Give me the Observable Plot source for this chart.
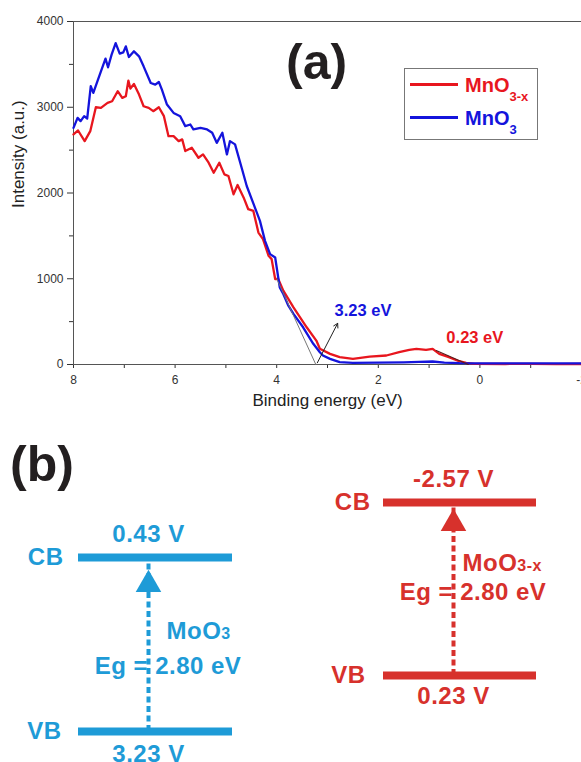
<!DOCTYPE html>
<html><head><meta charset="utf-8">
<script src="https://cdn.jsdelivr.net/npm/d3@7"></script>
<script src="https://cdn.jsdelivr.net/npm/@observablehq/plot@0.6"></script>
<style>
body{margin:0;background:#fff;}
#wrap{position:relative;width:581px;height:762px;overflow:hidden;font-family:"Liberation Sans",Arial,sans-serif;}
.abs{position:absolute;white-space:nowrap;}
</style></head><body><div id="wrap"></div>
<script>
// ---------- data : panel (a) valence-band XPS ----------
const mno3xEnergy = [8.00,7.91,7.78,7.67,7.56,7.46,7.33,7.24,7.13,7.04,6.97,6.92,6.88,6.81,6.71,6.62,6.52,6.43,6.32,6.22,6.13,6.03,5.93,5.86,5.80,5.67,5.54,5.45,5.34,5.24,5.13,5.03,4.95,4.85,4.77,4.65,4.56,4.46,4.36,4.27,4.16,4.10,4.03,3.97,3.87,3.67,3.41,3.22,3.15,2.95,2.76,2.50,2.17,1.84,1.59,1.39,1.25,1.06,0.93,0.80,0.61,0.41,0.27,0.10,-0.50,-1.00,-1.50,-2.00];
const mno3xIntensity = [2683,2729,2605,2721,3000,2993,3051,3070,3187,3109,3128,3311,3218,3272,3148,3012,2993,2954,3000,2896,2663,2663,2605,2625,2489,2527,2411,2450,2353,2236,2353,2217,2198,1985,2093,1946,1811,1791,1539,1462,1268,1229,997,997,861,666,434,279,183,124,85,66,93,105,143,171,183,171,183,124,85,38,20,8,6,8,5,6];
const mno3Energy = [8.00,7.92,7.86,7.79,7.73,7.66,7.61,7.53,7.46,7.37,7.32,7.25,7.17,7.09,7.02,6.97,6.91,6.81,6.71,6.62,6.48,6.39,6.32,6.26,6.16,6.03,5.90,5.80,5.70,5.64,5.50,5.37,5.27,5.18,5.07,4.98,4.92,4.82,4.69,4.59,4.46,4.33,4.23,4.13,4.03,3.94,3.87,3.77,3.67,3.48,3.28,3.15,3.09,2.95,2.76,2.50,2.00,1.50,1.20,0.93,0.70,0.40,0.00,-0.50,-1.00,-1.50,-2.00];
const mno3Intensity = [2760,2876,2838,2896,2869,3245,3167,3303,3419,3567,3466,3613,3748,3625,3640,3710,3586,3652,3594,3477,3283,3264,3295,3206,3032,2934,2896,2780,2799,2741,2760,2741,2702,2585,2702,2450,2605,2567,2295,2082,1880,1675,1442,1287,1248,899,822,686,590,434,241,143,105,66,27,20,22,25,30,35,22,15,12,12,12,12,12];
const seriesNames = ["MnO3-x","MnO3"];
const edgeValues = [0.23, 3.23];           // extrapolated edges (eV)
const tangentMnO3 = {energy:[4.00,3.23], intensity:[1000,0]};
const tangentMnO3x = {energy:[0.86,0.23], intensity:[163,0]};
const xTicks = [8,6,4,2,0,-2];
const xMinor = [7,5,3,1,-1];
const yTicks = [0,1000,2000,3000,4000];
const yMinor = [500,1500,2500,3500];

// ---------- data : panel (b) band positions ----------
const materials = ["MoO3","MoO3-x"];
const cbPotential = [0.43,-2.57];
const vbPotential = [3.23,0.23];

// ---------- styling ----------
const RED = "#e8161e", BLUE = "#1414dc";
const BAND_BLUE = "#1e9bd7", BAND_RED = "#d7312c";
const FONT = '"Liberation Sans", Arial, sans-serif';

const wrap = document.getElementById("wrap");
const zip = (xs, ys) => xs.map((e,i)=>({energy:e, intensity:ys[i]}));
const redData = zip(mno3xEnergy, mno3xIntensity);
const blueData = zip(mno3Energy, mno3Intensity);

const chartA = Plot.plot({
  width:581, height:420, marginLeft:73, marginRight:0, marginTop:21, marginBottom:56,
  style:{fontFamily:FONT, fontSize:"12px", color:"#333", background:"transparent", overflow:"visible"},
  x:{domain:[8,-2]}, y:{domain:[0,4000]},
  marks:[
    Plot.axisX({ticks:xTicks, tickSize:4, tickPadding:7, label:null, tickFormat:d=>String(d)}),
    Plot.axisX({ticks:xMinor, tickSize:4, label:null, tickFormat:()=>""}),
    Plot.axisY({ticks:yTicks, tickSize:6, tickPadding:4, label:null, tickFormat:d=>String(d)}),
    Plot.axisY({ticks:yMinor, tickSize:4, label:null, tickFormat:()=>""}),
    Plot.frame({stroke:"#555", strokeWidth:1}),
    Plot.line(redData, {x:"energy", y:"intensity", stroke:RED, strokeWidth:2.3}),
    Plot.line(blueData, {x:"energy", y:"intensity", stroke:BLUE, strokeWidth:2.3}),
    Plot.line(zip(tangentMnO3.energy, tangentMnO3.intensity), {x:"energy", y:"intensity", stroke:"#777", strokeWidth:1}),
    Plot.line(zip(tangentMnO3x.energy, tangentMnO3x.intensity), {x:"energy", y:"intensity", stroke:"#5a1c1c", strokeWidth:1.2}),
    Plot.arrow([edgeValues[1]], {x1:d=>d-0.03, y1:20, x2:2.80, y2:480, stroke:"#222", strokeWidth:1, headLength:7}),
    Plot.text([edgeValues[1]], {x:2.86, y:628, text:d=>`${d.toFixed(2)} eV`, textAnchor:"start", fill:BLUE, fontWeight:"bold", fontSize:16.5}),
    Plot.text([edgeValues[0]], {x:0.66, y:314, text:d=>`${d.toFixed(2)} eV`, textAnchor:"start", fill:RED, fontWeight:"bold", fontSize:16.5}),
    Plot.text(["Binding energy (eV)"], {frameAnchor:"bottom", dy:41, fontSize:17, fill:"#222"}),
    Plot.text(["Intensity (a.u.)"], {frameAnchor:"left", rotate:-90, dx:-55, dy:15, fontSize:17, fill:"#222"})
  ]
});
chartA.style.position="absolute"; chartA.style.left="0px"; chartA.style.top="0px";
wrap.appendChild(chartA);

function bandChart(i, o) {
  const d = [{cb:cbPotential[i], vb:vbPotential[i], name:materials[i]}];
  const c = o.color, ax = o.ax;
  const txt = {fill:c, fontWeight:"bold", fontSize:24};
  const ch = Plot.plot({
    width:o.width, height:342, marginLeft:o.ml, marginRight:o.mr, marginTop:o.mt, marginBottom:o.mb,
    style:{fontFamily:FONT, background:"transparent", overflow:"visible"},
    y:{domain:[d[0].cb, d[0].vb], reverse:true, axis:null},
    marks:[
      Plot.ruleX(d, {x:null, y1:"vb", y2:"cb", stroke:c, strokeWidth:4, strokeDasharray:"6,3.5", dx:ax}),
      Plot.ruleY(d, {y:"cb", stroke:c, strokeWidth:8}),
      Plot.ruleY(d, {y:"vb", stroke:c, strokeWidth:8}),
      Plot.dot(d, {y:"cb", symbol:"triangle", r:9.5, fill:c, stroke:"none", dx:ax, dy:o.tri}),
      Plot.text(d, {y:"cb", text:r=>`${r.cb.toFixed(2)} V`, dx:ax, dy:-23.5, ...txt}),
      Plot.text(d, {y:"vb", text:r=>`${r.vb.toFixed(2)} V`, dx:ax, dy:o.vbDy, ...txt}),
      Plot.text(d, {y:"cb", text:()=>"CB", frameAnchor:"left", textAnchor:"end", dx:o.cbDx, ...txt}),
      Plot.text(d, {y:"vb", text:()=>"VB", frameAnchor:"left", textAnchor:"end", dx:o.vbDx, ...txt}),
      Plot.text(d, {y:r=>(r.cb+r.vb)/2, text:"name", textAnchor:"start", dx:o.nameDx, dy:o.nameDy, ...txt}),
      Plot.text(d, {y:r=>(r.cb+r.vb)/2, text:r=>`Eg = ${(r.vb-r.cb).toFixed(2)} eV`, dx:o.egDx, dy:o.egDy, ...txt})
    ]
  });
  // small "3" / "3-x" in the formula, slight tracking like the original lettering
  d3.select(ch).selectAll("text").attr("letter-spacing", "0.5px").each(function(){
    const t = this.textContent, m = /^MoO(3.*)$/.exec(t);
    if (m) {
      const s = d3.select(this); s.text(null);
      s.append("tspan").text("MoO");
      s.append("tspan").attr("font-size", 16).text(m[1]);
    }
  });
  ch.style.position="absolute"; ch.style.left=o.left+"px"; ch.style.top="420px";
  wrap.appendChild(ch);
}
bandChart(0, {color:BAND_BLUE, left:0, width:290, ml:78, mr:58, mt:137, mb:31, ax:-7, tri:27, vbDy:22.5, cbDx:-15, vbDx:-17, nameDx:11, nameDy:-13, egDx:12.5, egDy:22});
bandChart(1, {color:BAND_RED, left:290, width:291, ml:93, mr:45, mt:82, mb:87, ax:-6.5, tri:21, vbDy:21, cbDx:-13, vbDx:-18, nameDx:2.5, nameDy:-26, egDx:13, egDy:3.5});

// ---------- overlay texts: panel letters and legend ----------
function addDiv(html, css){ const el=document.createElement("div"); el.className="abs"; el.innerHTML=html; Object.assign(el.style, css); wrap.appendChild(el); return el; }
addDiv("(a)", {left:"286px", top:"37px", fontSize:"50px", fontWeight:"bold", lineHeight:"50px", color:"#231f20"});
addDiv("(b)", {left:"10px", top:"439px", fontSize:"50px", fontWeight:"bold", lineHeight:"50px", color:"#231f20"});
addDiv("", {left:"404px", top:"68px", width:"132px", height:"70px", border:"1px solid #777", background:"#fff"});
const legendColors = [RED, BLUE], legendSubs = ["3-x","3"], legendTops = [74.5, 107.5];
seriesNames.forEach((n,i)=>{
  addDiv("", {left:"410px", top:(legendTops[i]+8.5)+"px", width:"48px", height:"2.5px", background:legendColors[i]});
  addDiv(`MnO<span style="font-size:13px;vertical-align:-9px">${legendSubs[i]}</span>`,
    {left:"465px", top:legendTops[i]+"px", fontSize:"20px", lineHeight:"20px", fontWeight:"bold", color:legendColors[i]});
});
</script></body></html>
